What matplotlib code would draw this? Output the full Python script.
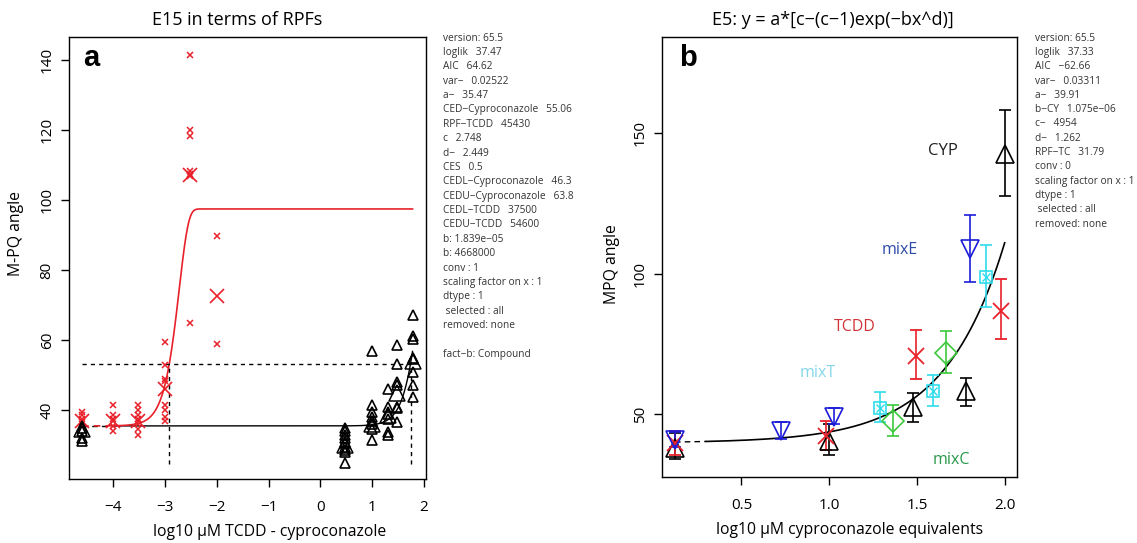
import numpy as np
import matplotlib
matplotlib.use('Agg')
import matplotlib.pyplot as plt

plt.rcParams['font.family'] = ['Open Sans', 'DejaVu Sans']
plt.rcParams['axes.linewidth'] = 1.0

# === Panel a data (log10 uM dose, M-PQ angle) ===
tcdd_dose = [-4.6, -4.0, -3.52, -3.0, -2.52, -2.0]
tcdd_obs = [
    [39.5, 38.5, 37.5, 36.5, 35.5],
    [41.5, 38.5, 37.5, 35.5, 34.0],
    [41.5, 40.0, 38.5, 37.5, 36.0, 34.5, 33.0],
    [59.5, 53.0, 49.0, 48.3, 41.5, 40.0, 38.0, 37.0],
    [141.5, 120.0, 118.3, 108.2, 107.6, 107.0, 64.8],
    [89.7, 59.0],
]
tcdd_mean = [37.0, 37.0, 37.0, 46.0, 107.3, 72.7]

cyp_dose = [-4.6, 0.48, 1.0, 1.3, 1.48, 1.78]
cyp_obs = [
    [35.0, 34.0, 32.0, 31.2],
    [35.0, 34.0, 33.0, 32.0, 31.0, 30.5, 29.5, 28.5, 28.0, 25.0],
    [56.8, 41.5, 39.5, 38.0, 37.0, 36.0, 34.5, 31.5],
    [46.0, 41.0, 39.0, 37.5, 33.6, 33.0],
    [58.6, 53.3, 47.9, 47.3, 41.0, 40.5, 36.5],
    [67.2, 61.3, 60.3, 55.0, 54.5, 50.9, 47.2, 43.7],
]
cyp_mean = [34.5, 30.0, 36.0, 38.5, 45.0, 54.0]

# fitted E15 parameters shown in the panel
a_a, c_a, d_a = 35.47, 2.748, 2.449
b_cyp_a, b_tcdd_a = 1.839e-05, 4668000
ces_level = 53.2
ced_cyp = 55.06
rpf_tcdd = 45430

info_a = ['version: 65.5', 'loglik   37.47', 'AIC   64.62', 'var\u2212   0.02522',
          'a\u2212   35.47', 'CED\u2212Cyproconazole   55.06', 'RPF\u2212TCDD   45430',
          'c   2.748', 'd\u2212   2.449', 'CES   0.5', 'CEDL\u2212Cyproconazole   46.3',
          'CEDU\u2212Cyproconazole   63.8', 'CEDL\u2212TCDD   37500', 'CEDU\u2212TCDD   54600',
          'b: 1.839e\u221205', 'b: 4668000', 'conv : 1', 'scaling factor on x : 1',
          'dtype : 1', ' selected : all', 'removed: none', '', 'fact\u2212b: Compound']

# === Panel b data (log10 uM cyproconazole equivalents, mean, lower, upper) ===
b_cyp_x = [0.122, 1.001, 1.475, 1.78, 2.0]
b_cyp_y = [38.0, 40.4, 52.7, 58.2, 142.4]
b_cyp_lo = [34.3, 35.5, 47.4, 53.1, 127.6]
b_cyp_hi = [43.5, 46.6, 57.6, 63.1, 158.0]

b_tcdd_x = [0.122, 0.98, 1.496, 1.979]
b_tcdd_y = [39.8, 42.3, 70.8, 86.7]
b_tcdd_lo = [35.5, 37.3, 62.5, 76.7]
b_tcdd_hi = [44.3, 47.8, 80.0, 98.2]

b_mixe_x = [0.122, 0.724, 1.029, 1.805]
b_mixe_y = [41.0, 44.1, 49.0, 108.6]
b_mixe_lo = [38.6, 41.3, 46.6, 96.9]
b_mixe_hi = [43.7, 47.2, 52.3, 120.9]

b_mixt_x = [1.291, 1.589, 1.893]
b_mixt_y = [52.3, 58.2, 98.8]
b_mixt_lo = [47.2, 53.1, 88.3]
b_mixt_hi = [58.0, 64.1, 110.2]

b_mixc_x = [1.364, 1.664]
b_mixc_y = [47.8, 71.7]
b_mixc_lo = [42.5, 64.6]
b_mixc_hi = [53.3, 79.7]

a_b, b_b, c_b, d_b = 39.91, 1.075e-06, 4954, 1.262

info_b = ['version: 65.5', 'loglik   37.33', 'AIC   \u221262.66', 'var\u2212   0.03311',
          'a\u2212   39.91', 'b\u2212CY   1.075e\u221206', 'c\u2212   4954', 'd\u2212   1.262',
          'RPF\u2212TC   31.79', 'conv : 0', 'scaling factor on x : 1', 'dtype : 1',
          ' selected : all', 'removed: none']

RED = '#e8212a'
BLUE = '#1c1cd8'
CYAN = '#2fdcec'
GREEN = '#3cc83c'


def e5(logx, a, b, c, d):
    x = 10.0 ** np.asarray(logx)
    return a * (c - (c - 1) * np.exp(-b * x ** d))


W, H = 1137, 543
fig = plt.figure(figsize=(W / 100, H / 100), dpi=100)


def px(x, y):
    # figure pixel position (from top-left) -> figure fraction
    return x / W, 1 - y / H


# === Panel a ===
ax = fig.add_axes([68.6 / W, 1 - 479 / H, (426 - 68.6) / W, (479 - 37.4) / H])
ax.set_xlim(-4.86, 2.04)
ax.set_ylim(20.3, 146.5)

xs_dash = np.linspace(-4.6, -4.0, 20)
xs = np.linspace(-4.0, 1.78, 600)
ax.plot(xs_dash, e5(xs_dash, a_a, b_cyp_a, c_a, d_a), color='black', lw=1, ls=(0, (4, 3)))
ax.plot(xs, e5(xs, a_a, b_cyp_a, c_a, d_a), color='black', lw=1)
ax.plot(xs_dash, e5(xs_dash, a_a, b_tcdd_a, c_a, d_a), color=RED, lw=1.2, ls=(0, (4, 3)))
ax.plot(xs, e5(xs, a_a, b_tcdd_a, c_a, d_a), color=RED, lw=1.2)

# CES reference lines
ced_tcdd_log = np.log10(ced_cyp / rpf_tcdd)
ced_cyp_log = np.log10(ced_cyp)
ax.plot([-4.6, 1.8], [ces_level, ces_level], color='black', lw=1, ls=(0, (3, 3)))
for xv in [ced_tcdd_log, ced_cyp_log]:
    ax.plot([xv, xv], [24.7, ces_level], color='black', lw=1, ls=(0, (3, 3)))

for xd, obs in zip(tcdd_dose, tcdd_obs):
    ax.plot([xd] * len(obs), obs, 'x', color=RED, ms=4.8, mew=1.1)
ax.plot(tcdd_dose, tcdd_mean, 'x', color=RED, ms=10, mew=1.2, ls='none')
for xd, obs in zip(cyp_dose, cyp_obs):
    ax.plot([xd] * len(obs), obs, '^', mfc='none', mec='black', ms=6.5, mew=1.2, ls='none')
ax.plot(cyp_dose, cyp_mean, '^', mfc='none', mec='black', ms=12, mew=1.1, ls='none')

ax.set_xticks([-4, -3, -2, -1, 0, 1, 2])
ax.set_xticklabels(['\u22124', '\u22123', '\u22122', '\u22121', '0', '1', '2'])
ax.set_yticks([40, 60, 80, 100, 120, 140])
ax.tick_params(axis='x', direction='out', length=6, width=1, labelsize=11, pad=9)
ax.tick_params(axis='y', direction='out', length=6, width=1, labelsize=11, pad=4)
for lab in ax.get_yticklabels():
    lab.set_rotation(90)
    lab.set_va('center')

fig.text(*px(269.5, 532), 'log10 \u00b5M TCDD - cyproconazole', fontsize=11.3,
         ha='center', va='center')
fig.text(*px(16, 233), 'M-PQ angle', fontsize=11.3, rotation=90, ha='center', va='center')
fig.text(*px(237.5, 20), 'E15 in terms of RPFs', fontsize=13, ha='center', va='center')
fig.text(*px(83, 66), 'a', fontsize=21, fontweight='bold', family='Liberation Sans',
         ha='left', va='baseline')

for i, line in enumerate(info_a):
    fig.text(*px(443, 38.1 + i * 14.37), line, fontsize=7.3, color='#333333',
             va='center', ha='left')

# === Panel b ===
bx = fig.add_axes([661.7 / W, 1 - 477 / H, (1017.5 - 661.7) / W, (477 - 37.4) / H])
bx.set_xlim(0.046, 2.073)
bx.set_ylim(27.8, 183.8)

xs_b_dash = np.linspace(0.122, 0.3, 10)
xs_b = np.linspace(0.3, 2.0, 400)
bx.plot(xs_b_dash, e5(xs_b_dash, a_b, b_b, c_b, d_b), color='black', lw=1, ls=(0, (4, 3)))
bx.plot(xs_b, e5(xs_b, a_b, b_b, c_b, d_b), color='black', lw=1.2)


def errs(y, lo, hi):
    y = np.array(y)
    return [y - np.array(lo), np.array(hi) - y]


bx.errorbar(b_cyp_x, b_cyp_y, yerr=errs(b_cyp_y, b_cyp_lo, b_cyp_hi), fmt='^', mfc='none',
            mec='black', ecolor='black', ms=13, mew=1.2, elinewidth=1.2, capsize=4, capthick=1.2)
bx.errorbar(b_tcdd_x, b_tcdd_y, yerr=errs(b_tcdd_y, b_tcdd_lo, b_tcdd_hi), fmt='x', color=RED,
            ms=11, mew=1.3, elinewidth=1.2, capsize=4, capthick=1.2)
bx.errorbar(b_mixe_x, b_mixe_y, yerr=errs(b_mixe_y, b_mixe_lo, b_mixe_hi), fmt='v', mfc='none',
            mec=BLUE, ecolor=BLUE, ms=13, mew=1.2, elinewidth=1.2, capsize=4, capthick=1.2)
bx.errorbar(b_mixt_x, b_mixt_y, yerr=errs(b_mixt_y, b_mixt_lo, b_mixt_hi), fmt='s', mfc='none',
            mec=CYAN, ecolor=CYAN, ms=8.5, mew=1.2, elinewidth=1.2, capsize=4, capthick=1.2)
bx.plot(b_mixt_x, b_mixt_y, 'x', color=CYAN, ms=6, mew=1.0, ls='none')
bx.errorbar(b_mixc_x, b_mixc_y, yerr=errs(b_mixc_y, b_mixc_lo, b_mixc_hi), fmt='D', mfc='none',
            mec=GREEN, ecolor=GREEN, ms=11, mew=1.2, elinewidth=1.2, capsize=4, capthick=1.2)

bx.text(1.647, 143.6, 'CYP', fontsize=12, color='#222222', ha='center', va='center')
bx.text(1.40, 108.4, 'mixE', fontsize=11.5, color='#2d4aa6', ha='center', va='center')
bx.text(1.144, 81.0, 'TCDD', fontsize=11.5, color='#d0343a', ha='center', va='center')
bx.text(0.934, 64.6, 'mixT', fontsize=11.5, color='#86d6ea', ha='center', va='center')
bx.text(1.694, 33.7, 'mixC', fontsize=11.5, color='#2a9a4c', ha='center', va='center')

bx.set_xticks([0.5, 1.0, 1.5, 2.0])
bx.set_xticklabels(['0.5', '1.0', '1.5', '2.0'])
bx.set_yticks([50, 100, 150])
bx.tick_params(axis='x', direction='out', length=6, width=1, labelsize=11, pad=9)
bx.tick_params(axis='y', direction='out', length=6, width=1, labelsize=11, pad=4)
for lab in bx.get_yticklabels():
    lab.set_rotation(90)
    lab.set_va('center')

fig.text(*px(850, 530), 'log10 \u00b5M cyproconazole equivalents', fontsize=11.3,
         ha='center', va='center')
fig.text(*px(611.5, 264), 'MPQ angle', fontsize=11.3, rotation=90, ha='center', va='center')
fig.text(*px(833, 20), 'E5: y = a*[c\u2212(c\u22121)exp(\u2212bx^d)]', fontsize=13,
         ha='center', va='center')
fig.text(*px(679, 66.5), 'b', fontsize=21, fontweight='bold', family='Liberation Sans',
         ha='left', va='baseline')

for i, line in enumerate(info_b):
    fig.text(*px(1035, 38.1 + i * 14.3), line, fontsize=7.3, color='#333333',
             va='center', ha='left')

fig.savefig('out.png', dpi=100)
